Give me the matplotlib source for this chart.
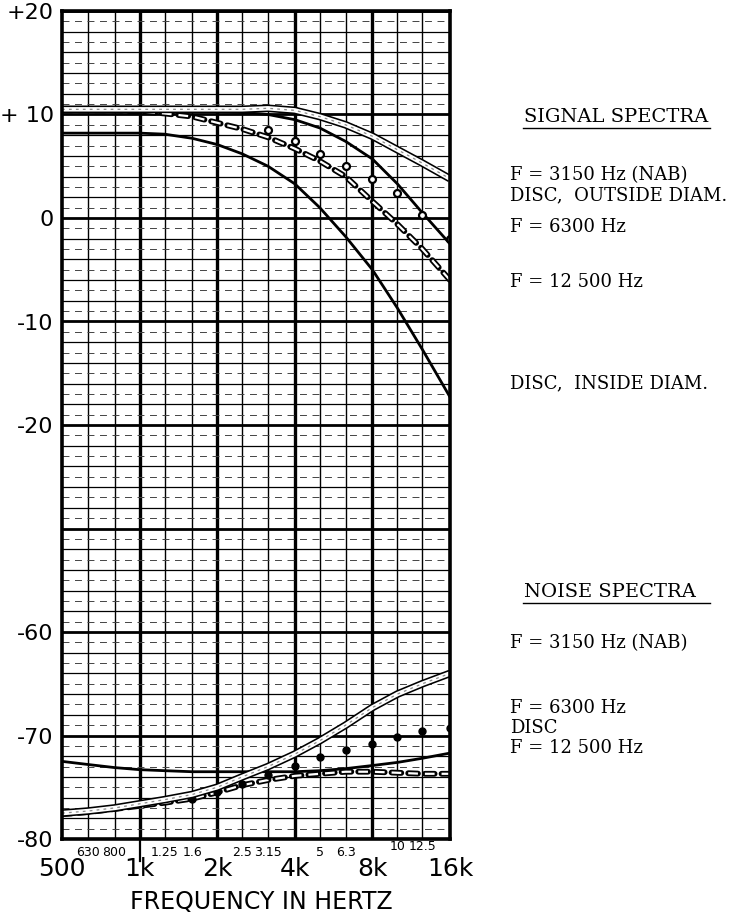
"""Signal and noise spectra for NAB / disc recording, on a broken dB axis."""

import matplotlib

matplotlib.use("Agg")
import matplotlib.pyplot as plt
import numpy as np

plt.rcParams["lines.scale_dashes"] = False

# third-octave centre frequencies (Hz)
FREQ = [500, 630, 800, 1000, 1250, 1600, 2000, 2500, 3150, 4000,
        5000, 6300, 8000, 10000, 12500, 16000]

# signal spectra (dB)
SIG_3150_NAB = [10.5, 10.5, 10.5, 10.5, 10.5, 10.5, 10.5, 10.5, 10.6, 10.4,
                9.8, 9.0, 7.9, 6.6, 5.3, 3.8]
SIG_DISC_OUT = [10.3, 10.3, 10.3, 10.3, 10.3, 10.3, 10.3, 10.2, 10.0, 9.5,
                8.7, 7.4, 5.7, 3.3, 0.5, -2.5]
SIG_6300 = [10.4, 10.4, 10.4, 10.4, 10.4, 10.3, 10.2, 9.6, 8.5, 7.4,
            6.2, 5.0, 3.8, 2.4, 0.3, -2.0]
SIG_12500 = [10.4, 10.4, 10.4, 10.3, 10.1, 9.8, 9.2, 8.6, 7.8, 6.7,
             5.5, 4.0, 1.6, -0.6, -3.0, -6.0]
SIG_DISC_IN = [8.2, 8.2, 8.2, 8.2, 8.1, 7.7, 7.1, 6.2, 5.0, 3.3,
               1.0, -1.8, -5.0, -8.7, -12.7, -17.3]

# noise spectra (dB)
NOI_3150_NAB = [-77.5, -77.3, -77.0, -76.6, -76.2, -75.7, -75.0, -74.0, -73.0, -71.8,
                -70.5, -69.0, -67.3, -66.0, -65.0, -64.0]
NOI_6300 = [-77.6, -77.4, -77.1, -76.8, -76.5, -76.1, -75.5, -74.7, -73.8, -72.9,
            -72.1, -71.4, -70.8, -70.1, -69.6, -69.3]
NOI_12500 = [-77.6, -77.4, -77.1, -76.8, -76.5, -76.1, -75.5, -74.8, -74.3, -73.9,
             -73.7, -73.5, -73.5, -73.6, -73.7, -73.7]
NOI_DISC = [-72.5, -72.8, -73.1, -73.3, -73.4, -73.5, -73.5, -73.5, -73.5, -73.5,
            -73.4, -73.2, -72.9, -72.6, -72.2, -71.7]

Y_TICKS = [20, 10, 0, -10, -20, -60, -70, -80]
Y_LABELS = ["+20", "+ 10", "0", "-10", "-20", "-60", "-70", "-80"]
X_MAJOR = [500, 1000, 2000, 4000, 8000, 16000]
X_MAJOR_LABELS = ["500", "1k", "2k", "4k", "8k", "16k"]
X_SMALL = [630, 800, 1250, 1600, 2500, 3150, 5000, 6300]
X_SMALL_LABELS = ["630", "800", "1.25", "1.6", "2.5", "3.15", "5", "6.3"]
X_SMALL_HI = [10000, 12500]
X_SMALL_HI_LABELS = ["10", "12.5"]


def _fwd(v):
    # the paper skips from -20 to -60 dB in two 10-dB rows
    v = np.asarray(v, dtype=float)
    return np.where(v >= -20, v, np.where(v <= -60, v + 20, -20 + (v + 20) / 2))


def _inv(u):
    u = np.asarray(u, dtype=float)
    return np.where(u >= -20, u, np.where(u <= -40, u - 20, -20 + (u + 20) * 2))


def hollow(ax, y, z):
    ax.plot(FREQ, y, color="black", lw=5.5, solid_capstyle="butt", zorder=z)
    ax.plot(FREQ, y, color="white", lw=3.2, zorder=z + 0.1)
    ax.plot(FREQ, y, color="#8a8a8a", lw=0.9, ls=(0, (2, 3)), zorder=z + 0.2)


def bars(ax, y, z):
    ax.plot(FREQ, y, color="black", lw=4.2, ls=(0, (7, 5)),
            dash_capstyle="round", zorder=z)
    ax.plot(FREQ, y, color="white", lw=1.6, ls=(0, (7, 5)),
            dash_capstyle="butt", zorder=z + 0.1)


fig = plt.figure(figsize=(7.38, 9.22), dpi=100)
ax = fig.add_axes([62 / 738, 1 - 839 / 922, 388 / 738, 828 / 922])
ax.set_xscale("log", base=2)
ax.set_yscale("function", functions=(_fwd, _inv))
ax.set_xlim(500, 16000)
ax.set_ylim(-80, 20)

# graph-paper grid
for f in FREQ[1:-1]:
    ax.axvline(f, color="black", lw=2.4 if f in X_MAJOR else 1.0, zorder=1)
for u in range(-60, 21):
    v = float(_inv(u))
    if u % 10 == 0:
        ax.axhline(v, color="black", lw=2.0, zorder=1)
    elif u % 2 == 0:
        ax.axhline(v, color="black", lw=0.9, zorder=1)
    else:
        ax.axhline(v, color="#444444", lw=0.7, ls=(0, (5, 4)), zorder=1)

# signal spectra
ax.plot(FREQ, SIG_DISC_IN, color="black", lw=2.0, zorder=3)
ax.plot(FREQ, SIG_DISC_OUT, color="black", lw=2.0, zorder=3)
bars(ax, SIG_12500, 4)
ax.plot(FREQ, SIG_6300, ls="none", marker="o", ms=5, mfc="white", mec="black",
        mew=1.6, markevery=slice(8, None), zorder=5)
hollow(ax, SIG_3150_NAB, 6)

# noise spectra
ax.plot(FREQ, NOI_DISC, color="black", lw=2.0, zorder=3)
bars(ax, NOI_12500, 4)
ax.plot(FREQ, NOI_6300, ls="none", marker="o", ms=5, color="black",
        markevery=slice(5, None), zorder=5)
hollow(ax, NOI_3150_NAB, 6)

for s in ax.spines.values():
    s.set_linewidth(2.6)
    s.set_zorder(8)

ax.set_yticks(Y_TICKS)
ax.set_yticklabels(Y_LABELS, fontsize=16)
ax.set_xticks(X_MAJOR)
ax.set_xticklabels(X_MAJOR_LABELS, fontsize=18)
ax.minorticks_off()
ax.tick_params(axis="both", length=0)
ax.tick_params(axis="y", pad=6)
ax.tick_params(axis="x", pad=13)

tr = ax.get_xaxis_transform()
for f, lab in zip(X_SMALL, X_SMALL_LABELS):
    ax.text(f, -0.0085, lab, transform=tr, ha="center", va="top", fontsize=9)
for f, lab in zip(X_SMALL_HI, X_SMALL_HI_LABELS):
    ax.text(f, -0.0015, lab, transform=tr, ha="center", va="top", fontsize=9)
ax.plot([1000, 1000], [0, -0.027], transform=tr, color="black", lw=1.6,
        clip_on=False)

fig.text(261 / 738, 1 - 902 / 922, "FREQUENCY IN HERTZ", ha="center",
         va="center", fontsize=17)

# right-hand legend text
serif = "DejaVu Serif"
notes = [
    (117, "SIGNAL SPECTRA", True),
    (175, "F = 3150 Hz (NAB)", False),
    (195, "DISC,  OUTSIDE DIAM.", False),
    (227, "F = 6300 Hz", False),
    (282, "F = 12 500 Hz", False),
    (383, "DISC,  INSIDE DIAM.", False),
    (592, "NOISE SPECTRA", True),
    (643, "F = 3150 Hz (NAB)", False),
    (708, "F = 6300 Hz", False),
    (728, "DISC", False),
    (748, "F = 12 500 Hz", False),
]
for ypx, txt, head in notes:
    x = 524 if head else 510
    fig.text(x / 738, 1 - ypx / 922, txt, ha="left", va="center",
             fontsize=14 if head else 13, family=serif)
    if head:
        fig.add_artist(plt.Line2D([523 / 738, 710 / 738],
                                  [1 - (ypx + 11) / 922] * 2,
                                  color="black", lw=1.0))

fig.savefig("out.png", dpi=100)
